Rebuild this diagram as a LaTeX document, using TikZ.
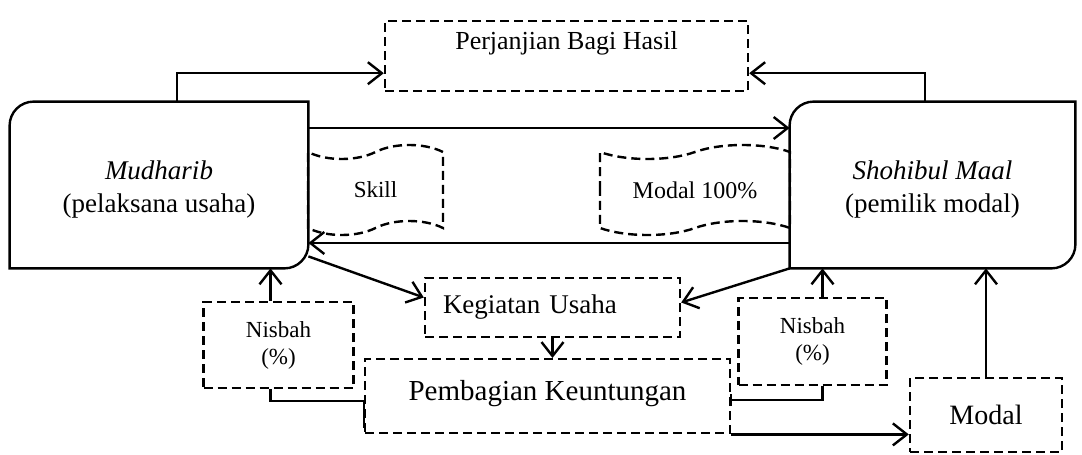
\documentclass[tikz,border=0pt]{standalone}
\usepackage{fontspec}
\setmainfont{Liberation Serif}
\usetikzlibrary{shapes.symbols,arrows.meta,calc}
\newcommand{\sidebox}[1]{%
  \draw[line width = 1.2pt] (#1.north east) -- ([yshift = 12pt]#1.south east)
    arc[start angle = 0, end angle = -90, radius = 12pt] -- (#1.south west)
    -- ([yshift = -12pt]#1.north west) arc[start angle = 180, end angle = 90, radius = 12pt] -- cycle;}

\begin{document}
\begin{tikzpicture}[x = 0.5pt, y = -0.5pt]
    \tikzset{>={Straight Barb[length=7pt,width=11pt]}}
    \tikzstyle{party}   = [minimum width = 149pt, minimum height = 83pt, align = center, font = \fontsize{13.5}{16.5}\selectfont]
    \tikzstyle{dashbox} = [rectangle, draw = black, line width = 1.2pt, dash pattern = on 4.5pt off 2.5pt, align = center]
    \tikzstyle{flag}    = [tape, draw = black, line width = 1.2pt, dash pattern = on 4.5pt off 2.5pt, tape bend height = 7pt, font = \fontsize{11.5}{13.5}\selectfont]
    \tikzstyle{arrow}   = [line width = 1.2pt, ->]
    \tikzstyle{link}    = [line width = 1.2pt]

    \useasboundingbox (0,0) rectangle (1082,455);

    % Both parties
    \node[flag, minimum width = 67.5pt, minimum height = 45pt] (skill) at (375.5,190) {Skill};
    \node[flag, minimum width = 95pt, minimum height = 45pt, font = \fontsize{12}{14}\selectfont] (capital) at (695,190) {Modal 100\%};
    \node[party] (mud) at (159,185) {\rule{0pt}{14pt}\textit{Mudharib}\\(pelaksana usaha)};
    \node[party, minimum width = 142.5pt] (sho) at (932.5,185) {\rule{0pt}{14pt}\textit{Shohibul Maal}\\(pemilik modal)};
    \sidebox{mud}
    \sidebox{sho}

    \node[dashbox, anchor = north, minimum width = 181.5pt, inner ysep = 0pt, text height = 14pt, text depth = 21pt, font = \fontsize{13}{15}\selectfont] (perj) at (566.5,20) {Perjanjian Bagi Hasil};
    \node[dashbox, minimum width = 127.5pt, minimum height = 29.5pt, inner xsep = 9pt, text width = 109.5pt, align = left, font = \fontsize{13.5}{15}\selectfont] (keg) at (552.5,307.5) {Kegiatan Usaha};
    \node[dashbox, anchor = north, minimum width = 182.5pt, inner ysep = 0pt, text height = 20.5pt, text depth = 16.5pt, font = \fontsize{14.5}{17}\selectfont] (pemb) at (547.5,358) {Pembagian Keuntungan};
    \node[dashbox, minimum width = 75pt, minimum height = 43pt, font = \fontsize{11.5}{13.5}\selectfont] (nisL) at (278.5,345) {Nisbah\\(\%)};
    \node[dashbox, minimum width = 74pt, minimum height = 43.5pt, font = \fontsize{11.5}{13.5}\selectfont] (nisR) at (812.5,341.5) {Nisbah\\(\%)};
    \node[dashbox, minimum width = 76pt, minimum height = 37pt, font = \fontsize{14}{16}\selectfont] (modal) at (986,415) {Modal};

    \coordinate (pembL) at ($(pemb.south west)+(0pt,3pt)$);
    \coordinate (pembR) at (730,400);

    \draw[arrow] ([xshift = 9pt]mud.north) |- ([yshift = -8.5pt]perj.west);
    \draw[arrow] ([xshift = -3.75pt]sho.north) |- ([yshift = -8.5pt]perj.east);
    \draw[arrow] ([yshift = 28.5pt]mud.east) -- ([yshift = 28.5pt]sho.west);
    \draw[arrow] ([yshift = -29pt]sho.west) -- ([yshift = -29pt]mud.east);
    \draw[arrow] ([yshift = 6pt]mud.south east) -- ([yshift = 5pt]keg.west);
    \draw[arrow] (sho.south west) -- ([yshift = 2.5pt]keg.east);
    \draw[arrow] (keg.south) -- (keg.south |- pemb.north);

    \draw[arrow] ([xshift = -4pt]nisL.north) -- ([xshift = -4pt]nisL.north |- mud.south);
    \draw[arrow] ([xshift = 5pt]nisR.north) -- ([xshift = 5pt]nisR.north |- sho.south);
    \draw[arrow] (modal.north) -- (modal.north |- sho.south);
    \draw[arrow] (pemb.south east) -- (pemb.south east -| modal.west);

    \draw[link] ([xshift = -4pt]nisL.south) -- ++(0,12) -| (pembL);
    \draw[link, -{Bar[width=6pt]}] ([xshift = 5pt]nisR.south) |- (pembR);
\end{tikzpicture}
\end{document}
